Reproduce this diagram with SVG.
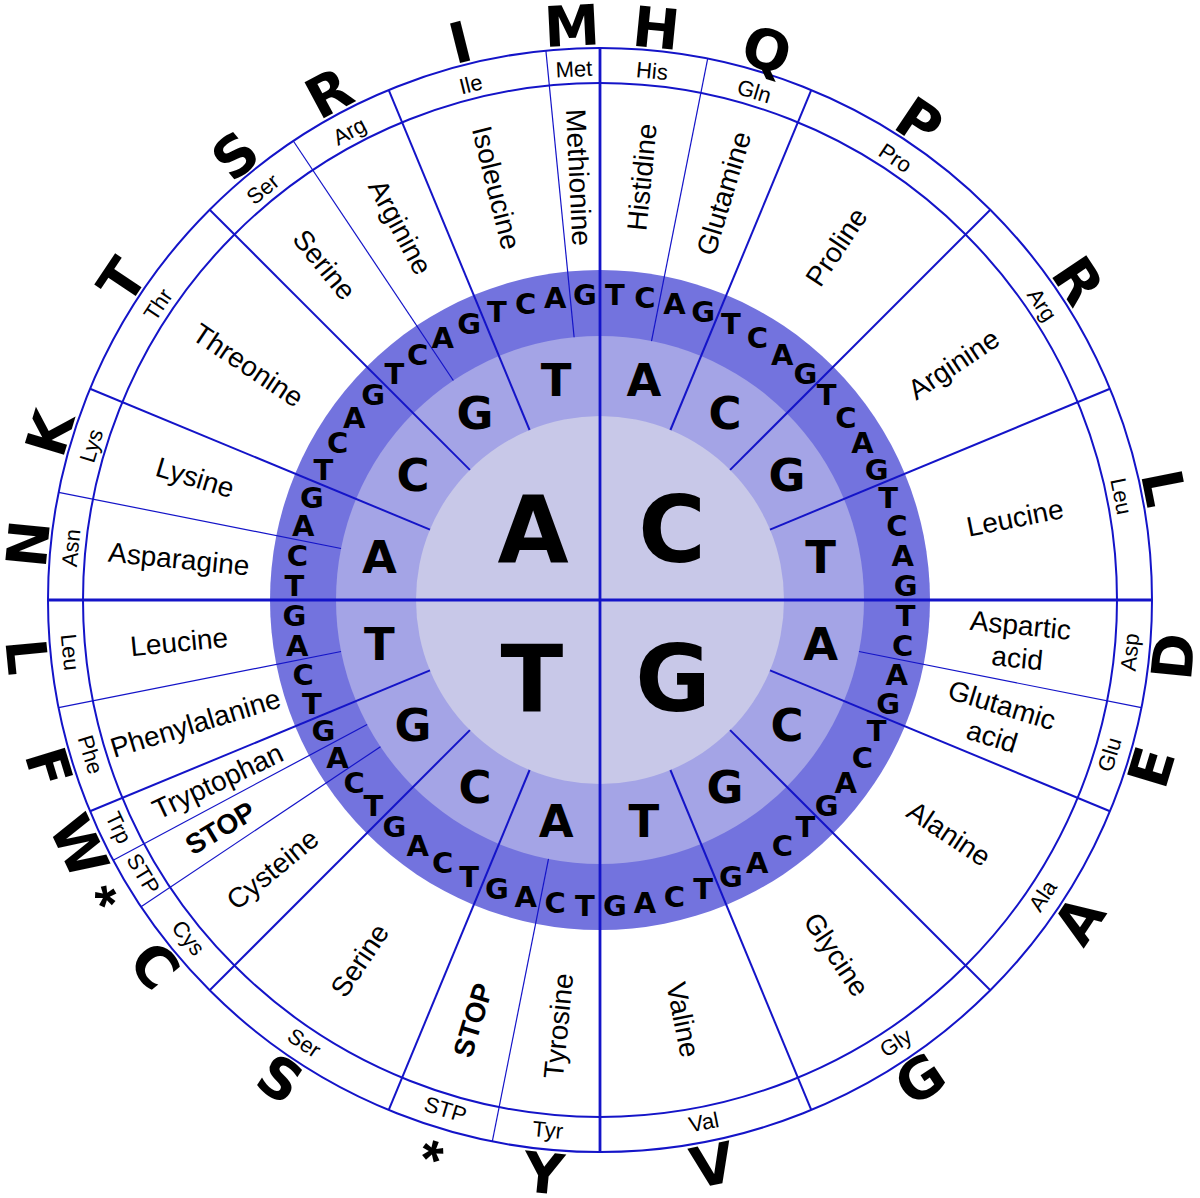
<svg xmlns="http://www.w3.org/2000/svg" width="1200" height="1198" viewBox="0 0 1200 1198">
<style>
.ln{stroke:#1414C8;stroke-width:2;fill:none}
.tn{stroke:#1414C8;stroke-width:1.2;fill:none}
.ax{stroke:#1414C8;stroke-width:2.8}
.L1{font-family:"DejaVu Sans",sans-serif;font-weight:bold;font-size:92px;text-anchor:middle}
.L2{font-family:"DejaVu Sans",sans-serif;font-weight:bold;font-size:45px;text-anchor:middle}
.L3{font-family:"DejaVu Sans",sans-serif;font-weight:bold;font-size:29px;text-anchor:middle}
.BG{font-family:"DejaVu Sans",sans-serif;font-weight:bold;font-size:56px;text-anchor:middle}
.as{font-family:"Liberation Sans",Arial,sans-serif;font-weight:bold;font-size:56px;text-anchor:middle}
.nm{font-family:"Liberation Sans",Arial,sans-serif;font-size:28px;text-anchor:middle}
.st{font-family:"Liberation Sans",Arial,sans-serif;font-weight:bold;font-size:28px;text-anchor:middle}
.ab{font-family:"Liberation Sans",Arial,sans-serif;font-size:22px;text-anchor:middle}
</style>
<defs>
<line id="tk" x1="600" y1="416" x2="600" y2="48"/>
<line id="tt" x1="600" y1="336" x2="600" y2="48"/>
</defs>
<rect width="1200" height="1198" fill="#ffffff"/>
<g id="rings">
<circle cx="600" cy="600" r="330" fill="#7373DE"/>
<circle cx="600" cy="600" r="264" fill="#A4A4E6"/>
<circle cx="600" cy="600" r="184" fill="#C8C8E8"/>
<circle class="ln" cx="600" cy="600" r="552" stroke-width="2.5"/>
<circle class="ln" cx="600" cy="600" r="517" stroke-width="2.3"/>
</g>
<g id="connectors">
<line class="ax" x1="600" y1="48" x2="600" y2="1152"/>
<line class="ax" x1="48" y1="600" x2="1152" y2="600"/>
<use href="#tk" class="ln" transform="rotate(22.5 600 600)"/>
<use href="#tk" class="ln" transform="rotate(45 600 600)"/>
<use href="#tk" class="ln" transform="rotate(67.5 600 600)"/>
<use href="#tk" class="ln" transform="rotate(112.5 600 600)"/>
<use href="#tk" class="ln" transform="rotate(135 600 600)"/>
<use href="#tk" class="ln" transform="rotate(157.5 600 600)"/>
<use href="#tk" class="ln" transform="rotate(202.5 600 600)"/>
<use href="#tk" class="ln" transform="rotate(225 600 600)"/>
<use href="#tk" class="ln" transform="rotate(247.5 600 600)"/>
<use href="#tk" class="ln" transform="rotate(292.5 600 600)"/>
<use href="#tk" class="ln" transform="rotate(315 600 600)"/>
<use href="#tk" class="ln" transform="rotate(337.5 600 600)"/>
<use href="#tt" class="tn" transform="rotate(11.25 600 600)"/>
<use href="#tt" class="tn" transform="rotate(101.25 600 600)"/>
<use href="#tt" class="tn" transform="rotate(191.25 600 600)"/>
<use href="#tt" class="tn" transform="rotate(236.25 600 600)"/>
<use href="#tt" class="tn" transform="rotate(241.875 600 600)"/>
<use href="#tt" class="tn" transform="rotate(258.75 600 600)"/>
<use href="#tt" class="tn" transform="rotate(281.25 600 600)"/>
<use href="#tt" class="tn" transform="rotate(326.25 600 600)"/>
<use href="#tt" class="tn" transform="rotate(354.375 600 600)"/>
</g>
<g id="first-base">
<text class="L1" x="533" y="561.5">A</text>
<text class="L1" x="672" y="562">C</text>
<text class="L1" x="532" y="710.5">T</text>
<text class="L1" x="673" y="710.5">G</text>
</g>
<g id="second-base">
<text class="L2" transform="rotate(11.25 600 600) translate(600 375) rotate(-11.25)" y="16.4">A</text>
<text class="L2" transform="rotate(33.75 600 600) translate(600 375) rotate(-33.75)" y="16.4">C</text>
<text class="L2" transform="rotate(56.25 600 600) translate(600 375) rotate(-56.25)" y="16.4">G</text>
<text class="L2" transform="rotate(78.75 600 600) translate(600 375) rotate(-78.75)" y="16.4">T</text>
<text class="L2" transform="rotate(101.25 600 600) translate(600 375) rotate(-101.25)" y="16.4">A</text>
<text class="L2" transform="rotate(123.75 600 600) translate(600 375) rotate(-123.75)" y="16.4">C</text>
<text class="L2" transform="rotate(146.25 600 600) translate(600 375) rotate(-146.25)" y="16.4">G</text>
<text class="L2" transform="rotate(168.75 600 600) translate(600 375) rotate(-168.75)" y="16.4">T</text>
<text class="L2" transform="rotate(191.25 600 600) translate(600 375) rotate(-191.25)" y="16.4">A</text>
<text class="L2" transform="rotate(213.75 600 600) translate(600 375) rotate(-213.75)" y="16.4">C</text>
<text class="L2" transform="rotate(236.25 600 600) translate(600 375) rotate(-236.25)" y="16.4">G</text>
<text class="L2" transform="rotate(258.75 600 600) translate(600 375) rotate(-258.75)" y="16.4">T</text>
<text class="L2" transform="rotate(281.25 600 600) translate(600 375) rotate(-281.25)" y="16.4">A</text>
<text class="L2" transform="rotate(303.75 600 600) translate(600 375) rotate(-303.75)" y="16.4">C</text>
<text class="L2" transform="rotate(326.25 600 600) translate(600 375) rotate(-326.25)" y="16.4">G</text>
<text class="L2" transform="rotate(348.75 600 600) translate(600 375) rotate(-348.75)" y="16.4">T</text>
</g>
<g id="third-base">
<text class="L3" transform="rotate(2.8125 600 600) translate(600 294) rotate(-2.8125)" y="10.6">T</text>
<text class="L3" transform="rotate(8.4375 600 600) translate(600 294) rotate(-8.4375)" y="10.6">C</text>
<text class="L3" transform="rotate(14.0625 600 600) translate(600 294) rotate(-14.0625)" y="10.6">A</text>
<text class="L3" transform="rotate(19.6875 600 600) translate(600 294) rotate(-19.6875)" y="10.6">G</text>
<text class="L3" transform="rotate(25.3125 600 600) translate(600 294) rotate(-25.3125)" y="10.6">T</text>
<text class="L3" transform="rotate(30.9375 600 600) translate(600 294) rotate(-30.9375)" y="10.6">C</text>
<text class="L3" transform="rotate(36.5625 600 600) translate(600 294) rotate(-36.5625)" y="10.6">A</text>
<text class="L3" transform="rotate(42.1875 600 600) translate(600 294) rotate(-42.1875)" y="10.6">G</text>
<text class="L3" transform="rotate(47.8125 600 600) translate(600 294) rotate(-47.8125)" y="10.6">T</text>
<text class="L3" transform="rotate(53.4375 600 600) translate(600 294) rotate(-53.4375)" y="10.6">C</text>
<text class="L3" transform="rotate(59.0625 600 600) translate(600 294) rotate(-59.0625)" y="10.6">A</text>
<text class="L3" transform="rotate(64.6875 600 600) translate(600 294) rotate(-64.6875)" y="10.6">G</text>
<text class="L3" transform="rotate(70.3125 600 600) translate(600 294) rotate(-70.3125)" y="10.6">T</text>
<text class="L3" transform="rotate(75.9375 600 600) translate(600 294) rotate(-75.9375)" y="10.6">C</text>
<text class="L3" transform="rotate(81.5625 600 600) translate(600 294) rotate(-81.5625)" y="10.6">A</text>
<text class="L3" transform="rotate(87.1875 600 600) translate(600 294) rotate(-87.1875)" y="10.6">G</text>
<text class="L3" transform="rotate(92.8125 600 600) translate(600 294) rotate(-92.8125)" y="10.6">T</text>
<text class="L3" transform="rotate(98.4375 600 600) translate(600 294) rotate(-98.4375)" y="10.6">C</text>
<text class="L3" transform="rotate(104.0625 600 600) translate(600 294) rotate(-104.0625)" y="10.6">A</text>
<text class="L3" transform="rotate(109.6875 600 600) translate(600 294) rotate(-109.6875)" y="10.6">G</text>
<text class="L3" transform="rotate(115.3125 600 600) translate(600 294) rotate(-115.3125)" y="10.6">T</text>
<text class="L3" transform="rotate(120.9375 600 600) translate(600 294) rotate(-120.9375)" y="10.6">C</text>
<text class="L3" transform="rotate(126.5625 600 600) translate(600 294) rotate(-126.5625)" y="10.6">A</text>
<text class="L3" transform="rotate(132.1875 600 600) translate(600 294) rotate(-132.1875)" y="10.6">G</text>
<text class="L3" transform="rotate(137.8125 600 600) translate(600 294) rotate(-137.8125)" y="10.6">T</text>
<text class="L3" transform="rotate(143.4375 600 600) translate(600 294) rotate(-143.4375)" y="10.6">C</text>
<text class="L3" transform="rotate(149.0625 600 600) translate(600 294) rotate(-149.0625)" y="10.6">A</text>
<text class="L3" transform="rotate(154.6875 600 600) translate(600 294) rotate(-154.6875)" y="10.6">G</text>
<text class="L3" transform="rotate(160.3125 600 600) translate(600 294) rotate(-160.3125)" y="10.6">T</text>
<text class="L3" transform="rotate(165.9375 600 600) translate(600 294) rotate(-165.9375)" y="10.6">C</text>
<text class="L3" transform="rotate(171.5625 600 600) translate(600 294) rotate(-171.5625)" y="10.6">A</text>
<text class="L3" transform="rotate(177.1875 600 600) translate(600 294) rotate(-177.1875)" y="10.6">G</text>
<text class="L3" transform="rotate(182.8125 600 600) translate(600 294) rotate(-182.8125)" y="10.6">T</text>
<text class="L3" transform="rotate(188.4375 600 600) translate(600 294) rotate(-188.4375)" y="10.6">C</text>
<text class="L3" transform="rotate(194.0625 600 600) translate(600 294) rotate(-194.0625)" y="10.6">A</text>
<text class="L3" transform="rotate(199.6875 600 600) translate(600 294) rotate(-199.6875)" y="10.6">G</text>
<text class="L3" transform="rotate(205.3125 600 600) translate(600 294) rotate(-205.3125)" y="10.6">T</text>
<text class="L3" transform="rotate(210.9375 600 600) translate(600 294) rotate(-210.9375)" y="10.6">C</text>
<text class="L3" transform="rotate(216.5625 600 600) translate(600 294) rotate(-216.5625)" y="10.6">A</text>
<text class="L3" transform="rotate(222.1875 600 600) translate(600 294) rotate(-222.1875)" y="10.6">G</text>
<text class="L3" transform="rotate(227.8125 600 600) translate(600 294) rotate(-227.8125)" y="10.6">T</text>
<text class="L3" transform="rotate(233.4375 600 600) translate(600 294) rotate(-233.4375)" y="10.6">C</text>
<text class="L3" transform="rotate(239.0625 600 600) translate(600 294) rotate(-239.0625)" y="10.6">A</text>
<text class="L3" transform="rotate(244.6875 600 600) translate(600 294) rotate(-244.6875)" y="10.6">G</text>
<text class="L3" transform="rotate(250.3125 600 600) translate(600 294) rotate(-250.3125)" y="10.6">T</text>
<text class="L3" transform="rotate(255.9375 600 600) translate(600 294) rotate(-255.9375)" y="10.6">C</text>
<text class="L3" transform="rotate(261.5625 600 600) translate(600 294) rotate(-261.5625)" y="10.6">A</text>
<text class="L3" transform="rotate(267.1875 600 600) translate(600 294) rotate(-267.1875)" y="10.6">G</text>
<text class="L3" transform="rotate(272.8125 600 600) translate(600 294) rotate(-272.8125)" y="10.6">T</text>
<text class="L3" transform="rotate(278.4375 600 600) translate(600 294) rotate(-278.4375)" y="10.6">C</text>
<text class="L3" transform="rotate(284.0625 600 600) translate(600 294) rotate(-284.0625)" y="10.6">A</text>
<text class="L3" transform="rotate(289.6875 600 600) translate(600 294) rotate(-289.6875)" y="10.6">G</text>
<text class="L3" transform="rotate(295.3125 600 600) translate(600 294) rotate(-295.3125)" y="10.6">T</text>
<text class="L3" transform="rotate(300.9375 600 600) translate(600 294) rotate(-300.9375)" y="10.6">C</text>
<text class="L3" transform="rotate(306.5625 600 600) translate(600 294) rotate(-306.5625)" y="10.6">A</text>
<text class="L3" transform="rotate(312.1875 600 600) translate(600 294) rotate(-312.1875)" y="10.6">G</text>
<text class="L3" transform="rotate(317.8125 600 600) translate(600 294) rotate(-317.8125)" y="10.6">T</text>
<text class="L3" transform="rotate(323.4375 600 600) translate(600 294) rotate(-323.4375)" y="10.6">C</text>
<text class="L3" transform="rotate(329.0625 600 600) translate(600 294) rotate(-329.0625)" y="10.6">A</text>
<text class="L3" transform="rotate(334.6875 600 600) translate(600 294) rotate(-334.6875)" y="10.6">G</text>
<text class="L3" transform="rotate(340.3125 600 600) translate(600 294) rotate(-340.3125)" y="10.6">T</text>
<text class="L3" transform="rotate(345.9375 600 600) translate(600 294) rotate(-345.9375)" y="10.6">C</text>
<text class="L3" transform="rotate(351.5625 600 600) translate(600 294) rotate(-351.5625)" y="10.6">A</text>
<text class="L3" transform="rotate(357.1875 600 600) translate(600 294) rotate(-357.1875)" y="10.6">G</text>
</g>
<g id="names">
<text class="nm" transform="rotate(5.625 600 600) translate(600 175) rotate(-90)" y="10">Histidine</text>
<text class="nm" transform="rotate(16.875 600 600) translate(600 175) rotate(-90)" y="10">Glutamine</text>
<text class="nm" transform="rotate(33.75 600 600) translate(600 175) rotate(-90)" y="10">Proline</text>
<text class="nm" transform="rotate(56.25 600 600) translate(600 175) rotate(-90)" y="10">Arginine</text>
<text class="nm" transform="rotate(78.75 600 600) translate(600 177) rotate(-90)" y="10">Leucine</text>
<text class="nm" transform="rotate(95.625 600 600) translate(600 179) rotate(-90)"><tspan x="0" y="-6.5">Aspartic</tspan><tspan x="0" y="26.5">acid</tspan></text>
<text class="nm" transform="rotate(106.875 600 600) translate(600 185) rotate(-90)"><tspan x="0" y="-6.5">Glutamic</tspan><tspan x="0" y="26.5">acid</tspan></text>
<text class="nm" transform="rotate(123.75 600 600) translate(600 180) rotate(-90)" y="10">Alanine</text>
<text class="nm" transform="rotate(146.25 600 600) translate(600 174) rotate(-90)" y="10">Glycine</text>
<text class="nm" transform="rotate(168.75 600 600) translate(600 172) rotate(-90)" y="10">Valine</text>
<text class="nm" transform="rotate(185.625 600 600) translate(600 172) rotate(90)" y="10">Tyrosine</text>
<text class="st" transform="rotate(196.875 600 600) translate(600 161) rotate(90)" y="10">STOP</text>
<text class="nm" transform="rotate(213.75 600 600) translate(600 167) rotate(90)" y="10">Serine</text>
<text class="nm" transform="rotate(230.625 600 600) translate(600 176) rotate(90)" y="10">Cysteine</text>
<text class="st" transform="rotate(239.0625 600 600) translate(600 157) rotate(90)" y="10">STOP</text>
<text class="nm" transform="rotate(244.6875 600 600) translate(600 177) rotate(90)" y="10">Tryptophan</text>
<text class="nm" transform="rotate(253.125 600 600) translate(600 177) rotate(90)" y="10">Phenylalanine</text>
<text class="nm" transform="rotate(264.375 600 600) translate(600 177) rotate(90)" y="10">Leucine</text>
<text class="nm" transform="rotate(275.625 600 600) translate(600 177) rotate(90)" y="10">Asparagine</text>
<text class="nm" transform="rotate(286.875 600 600) translate(600 177) rotate(90)" y="10">Lysine</text>
<text class="nm" transform="rotate(303.75 600 600) translate(600 177) rotate(90)" y="10">Threonine</text>
<text class="nm" transform="rotate(320.625 600 600) translate(600 166) rotate(90)" y="10">Serine</text>
<text class="nm" transform="rotate(331.875 600 600) translate(600 177) rotate(90)" y="10">Arginine</text>
<text class="nm" transform="rotate(345.9375 600 600) translate(600 175) rotate(90)" y="10">Isoleucine</text>
<text class="nm" transform="rotate(357.1875 600 600) translate(600 177) rotate(90)" y="10">Methionine</text>
</g>
<g id="abbreviations">
<text class="ab" transform="rotate(5.625 600 600)" x="600" y="76">His</text>
<text class="ab" transform="rotate(16.875 600 600)" x="600" y="76">Gln</text>
<text class="ab" transform="rotate(33.75 600 600)" x="600" y="76">Pro</text>
<text class="ab" transform="rotate(56.25 600 600)" x="600" y="76">Arg</text>
<text class="ab" transform="rotate(78.75 600 600)" x="600" y="76">Leu</text>
<text class="ab" transform="rotate(275.625 600 600)" x="600" y="76">Asn</text>
<text class="ab" transform="rotate(286.875 600 600)" x="600" y="76">Lys</text>
<text class="ab" transform="rotate(303.75 600 600)" x="600" y="76">Thr</text>
<text class="ab" transform="rotate(320.625 600 600)" x="600" y="76">Ser</text>
<text class="ab" transform="rotate(331.875 600 600)" x="600" y="76">Arg</text>
<text class="ab" transform="rotate(345.9375 600 600)" x="600" y="76">Ile</text>
<text class="ab" transform="rotate(357.1875 600 600)" x="600" y="76">Met</text>
<text class="ab" transform="rotate(95.625 600 600) translate(600 68) rotate(180)" y="8">Asp</text>
<text class="ab" transform="rotate(106.875 600 600) translate(600 68) rotate(180)" y="8">Glu</text>
<text class="ab" transform="rotate(123.75 600 600) translate(600 68) rotate(180)" y="8">Ala</text>
<text class="ab" transform="rotate(146.25 600 600) translate(600 68) rotate(180)" y="8">Gly</text>
<text class="ab" transform="rotate(168.75 600 600) translate(600 68) rotate(180)" y="8">Val</text>
<text class="ab" transform="rotate(185.625 600 600) translate(600 68) rotate(180)" y="8">Tyr</text>
<text class="ab" transform="rotate(196.875 600 600) translate(600 68) rotate(180)" y="8">STP</text>
<text class="ab" transform="rotate(213.75 600 600) translate(600 68) rotate(180)" y="8">Ser</text>
<text class="ab" transform="rotate(230.625 600 600) translate(600 68) rotate(180)" y="8">Cys</text>
<text class="ab" transform="rotate(239.0625 600 600) translate(600 68) rotate(180)" y="8" font-size="21">STP</text>
<text class="ab" transform="rotate(244.6875 600 600) translate(600 68) rotate(180)" y="8" font-size="21">Trp</text>
<text class="ab" transform="rotate(253.125 600 600) translate(600 68) rotate(180)" y="8">Phe</text>
<text class="ab" transform="rotate(264.375 600 600) translate(600 68) rotate(180)" y="8">Leu</text>
</g>
<g id="one-letter">
<text class="BG" transform="rotate(5.625 600 600)" x="600" y="45">H</text>
<text class="BG" transform="rotate(16.875 600 600)" x="600" y="45">Q</text>
<text class="BG" transform="rotate(33.75 600 600)" x="600" y="45">P</text>
<text class="BG" transform="rotate(56.25 600 600)" x="600" y="45">R</text>
<text class="BG" transform="rotate(78.75 600 600)" x="600" y="45">L</text>
<text class="BG" transform="rotate(275.625 600 600)" x="600" y="45">N</text>
<text class="BG" transform="rotate(286.875 600 600)" x="600" y="45">K</text>
<text class="BG" transform="rotate(303.75 600 600)" x="600" y="45">T</text>
<text class="BG" transform="rotate(320.625 600 600)" x="600" y="45">S</text>
<text class="BG" transform="rotate(331.875 600 600)" x="600" y="45">R</text>
<text class="BG" transform="rotate(345.9375 600 600)" x="600" y="45">I</text>
<text class="BG" transform="rotate(357.1875 600 600)" x="600" y="45">M</text>
<text class="BG" transform="rotate(95.625 600 600) translate(600 24.5) rotate(180)" y="20.4">D</text>
<text class="BG" transform="rotate(106.875 600 600) translate(600 24.5) rotate(180)" y="20.4">E</text>
<text class="BG" transform="rotate(123.75 600 600) translate(600 24.5) rotate(180)" y="20.4">A</text>
<text class="BG" transform="rotate(146.25 600 600) translate(600 24.5) rotate(180)" y="20.4">G</text>
<text class="BG" transform="rotate(168.75 600 600) translate(600 24.5) rotate(180)" y="20.4">V</text>
<text class="BG" transform="rotate(185.625 600 600) translate(600 24.5) rotate(180)" y="20.4">Y</text>
<text class="as" transform="rotate(196.875 600 600) translate(600 28) rotate(180)" y="32">*</text>
<text class="BG" transform="rotate(213.75 600 600) translate(600 24.5) rotate(180)" y="20.4">S</text>
<text class="BG" transform="rotate(230.625 600 600) translate(600 24.5) rotate(180)" y="20.4">C</text>
<text class="as" transform="rotate(239.0625 600 600) translate(600 28) rotate(180)" y="32">*</text>
<text class="BG" transform="rotate(244.6875 600 600) translate(600 24.5) rotate(180)" y="20.4">W</text>
<text class="BG" transform="rotate(253.125 600 600) translate(600 24.5) rotate(180)" y="20.4">F</text>
<text class="BG" transform="rotate(264.375 600 600) translate(600 24.5) rotate(180)" y="20.4">L</text>
</g>
</svg>
